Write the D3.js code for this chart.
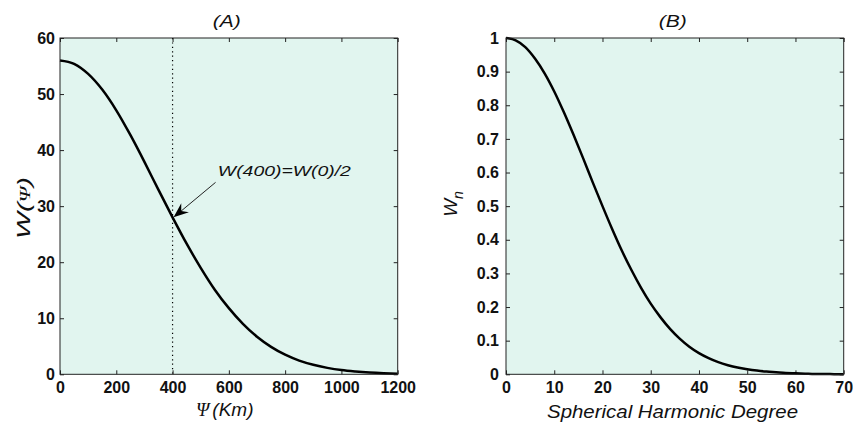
<!DOCTYPE html>
<html lang="en">
<head>
    <meta charset="UTF-8">
    <title>Gaussian averaging kernel</title>
    <script src="https://cdnjs.cloudflare.com/ajax/libs/d3/7.8.5/d3.min.js"></script>
    <style>
        body { margin: 0; background: #fff; }
        .tick line { stroke: #222; stroke-width: 1px; }
        .domain { display: none; }
        .frame { fill: none; stroke: #222; stroke-width: 1px; }
        .curve { fill: none; stroke: #000; stroke-width: 2.5px; }
        .lbl { font-family: "Liberation Sans", Arial, sans-serif; font-style: italic; fill: #111; }
    </style>
</head>
<body>
    <svg width="853" height="426"></svg>
    <script>
        // (A) spatial kernel W(psi), psi in km
        const psiKm = [0, 50, 100, 150, 200, 250, 300, 350, 400, 450, 500, 550, 600,
                       650, 700, 750, 800, 850, 900, 950, 1000, 1050, 1100, 1150, 1200];
        const wPsi = [56, 55.4, 53.6, 50.8, 47.1, 42.7, 37.9, 32.9, 28, 23.3, 19.0, 15.1, 11.8,
                      9.0, 6.7, 4.9, 3.5, 2.45, 1.7, 1.15, 0.75, 0.5, 0.32, 0.2, 0.12];
        const xTicksA = [0, 200, 400, 600, 800, 1000, 1200];
        const yTicksA = [0, 10, 20, 30, 40, 50, 60];

        // (B) spectral weights W_n
        const degree = [0, 2, 4, 6, 8, 10, 12, 14, 16, 18, 20, 22, 24, 26, 28, 30, 32, 34,
                        36, 38, 40, 42, 44, 46, 48, 50, 52, 54, 56, 58, 60, 62, 64, 66, 68, 70];
        const wn = [1, 0.993, 0.973, 0.939, 0.895, 0.841, 0.779, 0.712, 0.642, 0.570, 0.500,
                    0.432, 0.368, 0.310, 0.257, 0.210, 0.170, 0.135, 0.106, 0.082, 0.063,
                    0.048, 0.036, 0.027, 0.020, 0.015, 0.011, 0.008, 0.006, 0.004, 0.003,
                    0.002, 0.001, 0.001, 0.0005, 0.0003];
        const xTicksB = [0, 10, 20, 30, 40, 50, 60, 70];
        const yTicksB = [0, 0.1, 0.2, 0.3, 0.4, 0.5, 0.6, 0.7, 0.8, 0.9, 1];
        const yLabelsB = ["0", "0.1", "0.2", "0.3", "0.4", "0.5", "0.6", "0.7", "0.8", "0.9", "1"];

        const svg = d3.select("svg");
        const plotTop = 38, plotBottom = 374.3;

        function panel(opt) {
            const x = d3.scaleLinear().domain(opt.xDomain).range([opt.left, opt.right]);
            const y = d3.scaleLinear().domain(opt.yDomain).range([plotBottom, plotTop]);
            const g = svg.append("g");

            g.append("rect")
                .attr("x", opt.left).attr("y", plotTop)
                .attr("width", opt.right - opt.left).attr("height", plotBottom - plotTop)
                .attr("fill", "#e1f5ef");

            // ticks on all four sides, pointing inward
            g.append("g").attr("transform", `translate(0,${plotBottom})`)
                .call(d3.axisBottom(x).tickValues(opt.xTicks).tickSize(-4).tickPadding(7).tickFormat(d3.format("d")));
            g.append("g").attr("transform", `translate(0,${plotTop})`)
                .call(d3.axisTop(x).tickValues(opt.xTicks).tickSize(-4).tickFormat(""));
            g.append("g").attr("transform", `translate(${opt.left},0)`)
                .call(d3.axisLeft(y).tickValues(opt.yTicks).tickSize(-4).tickPadding(opt.yPad)
                    .tickFormat((d, i) => opt.yLabels[i]));
            g.append("g").attr("transform", `translate(${opt.right},0)`)
                .call(d3.axisRight(y).tickValues(opt.yTicks).tickSize(-4).tickFormat(""));

            g.selectAll(".tick text")
                .attr("font-family", "'Liberation Sans', Arial, sans-serif")
                .attr("font-weight", "bold")
                .attr("font-size", 16)
                .attr("fill", "#111");

            if (opt.extra) opt.extra(g, x, y);

            g.append("path")
                .datum(opt.xs.map((v, i) => [v, opt.ys[i]]))
                .attr("class", "curve")
                .attr("d", d3.line().x(d => x(d[0])).y(d => y(d[1])).curve(d3.curveMonotoneX));

            g.append("rect").attr("class", "frame")
                .attr("x", opt.left).attr("y", plotTop)
                .attr("width", opt.right - opt.left).attr("height", plotBottom - plotTop);

            // title
            g.append("text").attr("class", "lbl")
                .attr("x", (opt.left + opt.right) / 2 - 2).attr("y", 27)
                .attr("text-anchor", "middle").attr("font-size", 17)
                .attr("textLength", 28).attr("lengthAdjust", "spacingAndGlyphs")
                .text(opt.title);

            return { g, x, y };
        }

        // Panel A
        const A = panel({
            left: 60, right: 397.7,
            xDomain: [0, 1200], yDomain: [0, 60],
            xTicks: xTicksA, yTicks: yTicksA, yLabels: yTicksA.map(String), yPad: 5,
            xs: psiKm, ys: wPsi, title: "(A)",
            extra: (g, x, y) => {
                g.append("line")
                    .attr("x1", x(400)).attr("x2", x(400))
                    .attr("y1", plotTop).attr("y2", plotBottom)
                    .attr("stroke", "#000").attr("stroke-width", 1.2)
                    .attr("stroke-dasharray", "1.2,3.2");
            }
        });

        // annotation arrow pointing at W(400)
        const tipX = A.x(400) + 1, tipY = A.y(28);
        const tailX = tipX + 42, tailY = tipY - 35;
        const ux = (tipX - tailX), uy = (tipY - tailY), len = Math.hypot(ux, uy);
        const dx = ux / len, dy = uy / len, px = -dy, py = dx;
        A.g.append("line")
            .attr("x1", tailX).attr("y1", tailY).attr("x2", tipX - dx * 8).attr("y2", tipY - dy * 8)
            .attr("stroke", "#222").attr("stroke-width", 1);
        A.g.append("path")
            .attr("d", `M${tipX},${tipY}` +
                `L${tipX - dx * 15 + px * 6},${tipY - dy * 15 + py * 6}` +
                `L${tipX - dx * 10},${tipY - dy * 10}` +
                `L${tipX - dx * 15 - px * 6},${tipY - dy * 15 - py * 6}Z`)
            .attr("fill", "#000");
        A.g.append("text").attr("class", "lbl")
            .attr("x", A.x(561)).attr("y", 176)
            .attr("font-size", 14).attr("fill", "#222")
            .attr("textLength", 133).attr("lengthAdjust", "spacingAndGlyphs")
            .text("W(400)=W(0)/2");

        // x label A
        const xlA = A.g.append("text").attr("class", "lbl")
            .attr("x", 196).attr("y", 416).attr("font-size", 19);
        xlA.append("tspan").attr("font-family", "'Liberation Serif', serif").text("Ψ");
        xlA.append("tspan").attr("dx", 3).text("(Km)");

        // y label A
        const ylA = A.g.append("text").attr("class", "lbl")
            .attr("transform", "translate(30,208) rotate(-90)")
            .attr("text-anchor", "middle").attr("font-size", 19)
            .attr("textLength", 62).attr("lengthAdjust", "spacingAndGlyphs");
        ylA.append("tspan").text("W(");
        ylA.append("tspan").attr("font-family", "'Liberation Serif', serif").attr("font-size", 15).text("Ψ");
        ylA.append("tspan").text(")");

        // Panel B
        const B = panel({
            left: 506, right: 843.7,
            xDomain: [0, 70], yDomain: [0, 1],
            xTicks: xTicksB, yTicks: yTicksB, yLabels: yLabelsB, yPad: 7,
            xs: degree, ys: wn, title: "(B)"
        });

        B.g.append("text").attr("class", "lbl")
            .attr("x", 547).attr("y", 418).attr("font-size", 19)
            .attr("textLength", 251).attr("lengthAdjust", "spacingAndGlyphs")
            .text("Spherical Harmonic Degree");

        const ylB = B.g.append("text").attr("class", "lbl")
            .attr("transform", "translate(457,204) rotate(-90)")
            .attr("text-anchor", "middle").attr("font-size", 19);
        ylB.append("tspan").text("W");
        ylB.append("tspan").attr("dy", 6).attr("font-size", 14).text("n");
    </script>
</body>
</html>
